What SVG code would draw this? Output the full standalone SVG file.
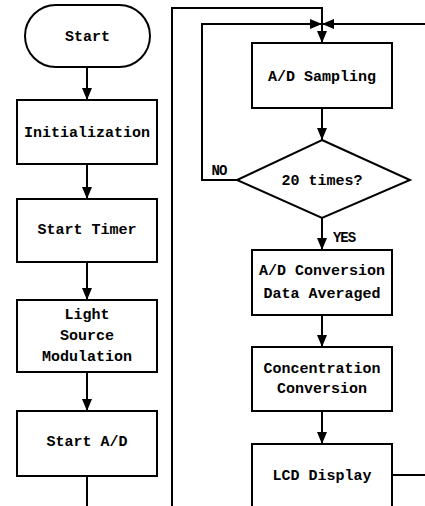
<svg xmlns="http://www.w3.org/2000/svg" width="425" height="506" viewBox="0 0 425 506">
<defs>
<marker id="ah" markerUnits="userSpaceOnUse" markerWidth="12" markerHeight="10" refX="12" refY="5" orient="auto">
<path d="M0,0 L12,5 L0,10 z" fill="#000"/>
</marker>
<style>
.n{fill:#fff;stroke:#000;stroke-width:2}
.t{font-family:"Liberation Mono","Courier New",monospace;font-size:15px;font-weight:bold;text-anchor:middle;fill:#000}
.c{fill:none;stroke:#000;stroke-width:2}
.a{marker-end:url(#ah)}
</style>
</defs>
<rect width="425" height="506" fill="#fff"/>
<g id="connectors">
<path class="c a" d="M87,67 V100"/>
<path class="c a" d="M87,164 V199"/>
<path class="c a" d="M87,262 V300"/>
<path class="c a" d="M87,372 V411"/>
<path class="c" d="M87,476 V506"/>
<path class="c a" d="M172,506 V8 H322 V43"/>
<path class="c a" d="M237,180 H202 V24 H322"/>
<path class="c a" d="M425,24 H322"/>
<path class="c a" d="M322,108 V140"/>
<path class="c a" d="M322,218 V250"/>
<path class="c a" d="M322,315 V347"/>
<path class="c a" d="M322,411 V444"/>
<path class="c" d="M392,475 H425"/>
<text class="t" x="219" y="175" style="font-size:14px;letter-spacing:-1px">NO</text>
<text class="t" x="344" y="242" style="font-size:14px;letter-spacing:-1px">YES</text>
</g>
<g id="start"><rect class="n" x="25" y="5" width="125" height="62" rx="31" ry="31"/><text class="t" x="87.5" y="41">Start</text></g>
<g id="init"><rect class="n" x="17" y="100" width="140" height="64"/><text class="t" x="87" y="137">Initialization</text></g>
<g id="timer"><rect class="n" x="17" y="199" width="140" height="63"/><text class="t" x="87" y="234">Start Timer</text></g>
<g id="light"><rect class="n" x="17" y="300" width="140" height="72"/><text class="t" x="87" y="319">Light</text><text class="t" x="87" y="340">Source</text><text class="t" x="87" y="361">Modulation</text></g>
<g id="startad"><rect class="n" x="17" y="411" width="140" height="65"/><text class="t" x="87" y="446">Start A/D</text></g>
<g id="sampling"><rect class="n" x="252" y="43" width="140" height="65"/><text class="t" x="322" y="81">A/D Sampling</text></g>
<g id="decision"><polygon class="n" points="322,140 410,180 322,218 237,180"/><text class="t" x="322" y="185">20 times?</text></g>
<g id="averaged"><rect class="n" x="252" y="250" width="140" height="65"/><text class="t" x="322" y="275">A/D Conversion</text><text class="t" x="322" y="298">Data Averaged</text></g>
<g id="concentration"><rect class="n" x="252" y="347" width="140" height="64"/><text class="t" x="322" y="373">Concentration</text><text class="t" x="322" y="393">Conversion</text></g>
<g id="lcd"><rect class="n" x="252" y="444" width="140" height="70"/><text class="t" x="322" y="480">LCD Display</text></g>
</svg>
